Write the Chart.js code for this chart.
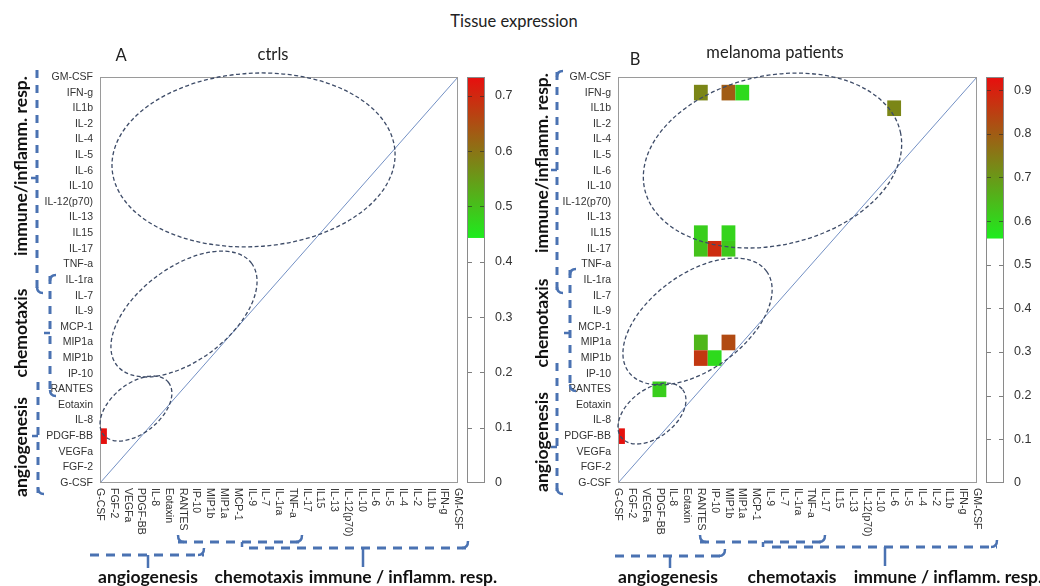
<!DOCTYPE html>
<html>
<head>
<meta charset="utf-8">
<script src="https://cdn.jsdelivr.net/npm/chart.js@4.4.0/dist/chart.umd.min.js"></script>
<style>
  html, body { margin:0; padding:0; background:#fff; }
  body { width:1040px; height:586px; position:relative; overflow:hidden; }
  #title { position:absolute; left:0; top:11px; width:1028px; text-align:center;
           font:16.5px Lato, "Open Sans", sans-serif; color:#222; line-height:20px; }
  #panelA { position:absolute; left:0; top:0; }
  #panelB { position:absolute; left:518px; top:0; }
</style>
</head>
<body>
<div id="title">Tissue expression</div>
<canvas id="panelA" width="520" height="586"></canvas>
<canvas id="panelB" width="522" height="586"></canvas>
<script>
// ---------------- data ----------------
const CATEGORIES = ['G-CSF','FGF-2','VEGFa','PDGF-BB','IL-8','Eotaxin','RANTES','IP-10','MIP1b','MIP1a',
  'MCP-1','IL-9','IL-7','IL-1ra','TNF-a','IL-17','IL15','IL-13','IL-12(p70)','IL-10','IL-6','IL-5',
  'IL-4','IL-2','IL1b','IFN-g','GM-CSF'];

// panel A: controls
const CTRL_CELL_X = ['G-CSF'];
const CTRL_CELL_Y = ['PDGF-BB'];
const CTRL_CELL_VALUES = [0.73];
const CTRL_COLOR_TICKS = [0, 0.1, 0.2, 0.3, 0.4, 0.5, 0.6, 0.7];
const CTRL_COLOR_MAX = 0.734;
const CTRL_COLOR_THRESHOLD = 0.443;

// panel B: melanoma patients
const MEL_CELL_X = ['RANTES','MIP1b','MIP1a','IL-6','RANTES','RANTES','IP-10','MIP1b','MIP1b',
  'RANTES','MIP1b','RANTES','IP-10','PDGF-BB','G-CSF'];
const MEL_CELL_Y = ['IFN-g','IFN-g','IFN-g','IL1b','IL15','IL-17','IL-17','IL15','IL-17',
  'MIP1a','MIP1a','MIP1b','MIP1b','RANTES','PDGF-BB'];
const MEL_CELL_VALUES = [0.73, 0.80, 0.59, 0.73, 0.61, 0.63, 0.88, 0.60, 0.62,
  0.65, 0.83, 0.86, 0.59, 0.61, 0.925];
const MEL_COLOR_TICKS = [0, 0.1, 0.2, 0.3, 0.4, 0.5, 0.6, 0.7, 0.8, 0.9];
const MEL_COLOR_MAX = 0.93;
const MEL_COLOR_THRESHOLD = 0.56;

// ---------------- styling helpers ----------------
const GREEN = [30, 236, 30], RED = [232, 14, 14];
function colorFor(v, thr, max) {
  if (v < thr) return '#ffffff';
  const t = Math.max(0, Math.min(1, (v - thr) / (max - thr)));
  const c = GREEN.map((g, i) => Math.round(g + (RED[i] - g) * t));
  return `rgb(${c[0]},${c[1]},${c[2]})`;
}
function idx(name) { return CATEGORIES.indexOf(name); }

const BLUE = '#4a72b2';
const GROUP_FONT = 'bold 17.5px Lato, "Open Sans", sans-serif';
const HEAD_FONT = '16.5px Lato, "Open Sans", sans-serif';

const heatPlugin = {
  id: 'heat',
  beforeDatasetsDraw(chart, args, o) {
    const { ctx, chartArea: a, scales: { x, y } } = chart;
    const ds = chart.data.datasets[1];
    ctx.save();
    ctx.beginPath();
    ctx.rect(a.left, a.top, a.right - a.left, a.bottom - a.top);
    ctx.clip();
    ds.data.forEach(d => {
      const x0 = x.getPixelForValue(d.x - 0.5), x1 = x.getPixelForValue(d.x + 0.5);
      const y0 = y.getPixelForValue(d.y + 0.5), y1 = y.getPixelForValue(d.y - 0.5);
      ctx.fillStyle = colorFor(d.v, o.threshold, o.max);
      ctx.fillRect(x0, y0, x1 - x0, y1 - y0);
    });
    ctx.restore();
  }
};

function vBracket(ctx, b) {
  ctx.save();
  ctx.strokeStyle = BLUE; ctx.lineWidth = 3; ctx.lineCap = 'butt';
  ctx.setLineDash([8, 7]);
  ctx.beginPath(); ctx.moveTo(b.x, b.y1); ctx.lineTo(b.x, b.y2); ctx.stroke();
  ctx.setLineDash([]);
  ctx.lineWidth = 2.5;
  ctx.beginPath();
  if (b.hookTop) { ctx.moveTo(b.x + 6, b.y1 - 1); ctx.quadraticCurveTo(b.x, b.y1 - 1, b.x, b.y1 + 5); }
  if (b.hookBottom) { ctx.moveTo(b.x, b.y2 - 5); ctx.quadraticCurveTo(b.x, b.y2 + 1, b.x + 6, b.y2 + 1); }
  ctx.moveTo(b.x, b.tick); ctx.lineTo(b.x - 6, b.tick);
  ctx.stroke();
  ctx.restore();
}
function hBracket(ctx, b) {
  ctx.save();
  ctx.strokeStyle = BLUE; ctx.lineWidth = 3;
  ctx.setLineDash([9, 7]);
  ctx.beginPath(); ctx.moveTo(b.x1, b.y); ctx.lineTo(b.x2, b.y); ctx.stroke();
  ctx.setLineDash([]);
  ctx.lineWidth = 2.5;
  ctx.beginPath();
  if (b.hookLeft) { ctx.moveTo(b.x1, b.y - 7); ctx.quadraticCurveTo(b.x1, b.y, b.x1 + 6, b.y); }
  if (b.hookRight) { ctx.moveTo(b.x2 - 6, b.y); ctx.quadraticCurveTo(b.x2, b.y, b.x2, b.y - 7); }
  ctx.moveTo(b.tick, b.y); ctx.lineTo(b.tick, b.y + b.tickLen);
  ctx.stroke();
  ctx.restore();
}

const decorPlugin = {
  id: 'decor',
  afterDraw(chart, args, o) {
    const { ctx, chartArea: a, scales } = chart;
    const x = scales.x, y = scales.y, cb = scales.cb;
    ctx.save();
    // frame
    ctx.strokeStyle = '#9a9a9a'; ctx.lineWidth = 1;
    ctx.strokeRect(a.left + 0.5, a.top + 0.5, a.right - a.left - 1, a.bottom - a.top - 1);

    // x-axis category labels (rotated, reading downward)
    ctx.fillStyle = '#333';
    ctx.font = '10.5px "Liberation Sans", Arial, sans-serif';
    ctx.textAlign = 'left'; ctx.textBaseline = 'middle';
    CATEGORIES.forEach((c, i) => {
      const px = x.getPixelForValue(i);
      ctx.save(); ctx.translate(px, a.bottom + 5); ctx.rotate(Math.PI / 2);
      ctx.fillText(c, 0, 0); ctx.restore();
    });

    // colour bar
    const cx0 = a.right + 9, cw = 18;
    const top = cb.getPixelForValue(o.max), bot = cb.getPixelForValue(0);
    const thrY = cb.getPixelForValue(o.threshold);
    const g = ctx.createLinearGradient(0, thrY, 0, top);
    g.addColorStop(0, colorFor(o.threshold, o.threshold, o.max));
    g.addColorStop(0.5, colorFor((o.threshold + o.max) / 2, o.threshold, o.max));
    g.addColorStop(1, colorFor(o.max, o.threshold, o.max));
    ctx.fillStyle = '#fff'; ctx.fillRect(cx0, top, cw, bot - top);
    ctx.fillStyle = g; ctx.fillRect(cx0, top, cw, thrY - top);
    ctx.strokeStyle = '#8a8a8a'; ctx.lineWidth = 1;
    ctx.strokeRect(cx0 + 0.5, top + 0.5, cw - 1, bot - top - 1);
    ctx.strokeStyle = 'rgba(40,40,40,0.6)';
    o.ticks.forEach(t => {
      if (t === 0) return;
      const ty = Math.round(cb.getPixelForValue(t)) + 0.5;
      ctx.beginPath();
      ctx.moveTo(cx0 + 1, ty); ctx.lineTo(cx0 + 5, ty);
      ctx.moveTo(cx0 + cw - 5, ty); ctx.lineTo(cx0 + cw - 1, ty);
      ctx.stroke();
    });

    // ellipses
    ctx.strokeStyle = '#3e4c68'; ctx.lineWidth = 1.3; ctx.setLineDash([4, 2.5]);
    o.ellipses.forEach(e => {
      ctx.beginPath();
      ctx.ellipse(x.getPixelForValue(e.cx), y.getPixelForValue(e.cy), e.rx, e.ry,
        e.rot * Math.PI / 180, 0, Math.PI * 2);
      ctx.stroke();
    });
    ctx.setLineDash([]);

    // brackets
    o.vBrackets.forEach(b => vBracket(ctx, b));
    o.hBrackets.forEach(b => hBracket(ctx, b));

    // group labels
    ctx.fillStyle = '#111';
    ctx.font = GROUP_FONT;
    ctx.textAlign = 'center'; ctx.textBaseline = 'middle';
    o.sideLabels.forEach(l => {
      ctx.save(); ctx.translate(l.x, l.y); ctx.rotate(-Math.PI / 2);
      ctx.fillText(l.text, 0, 0); ctx.restore();
    });
    o.bottomLabels.forEach(l => ctx.fillText(l.text, l.x, l.y));

    // panel letter and subtitle
    ctx.fillStyle = '#222';
    ctx.font = HEAD_FONT;
    ctx.fillText(o.letter.text, o.letter.x, o.letter.y);
    ctx.fillText(o.subtitle.text, o.subtitle.x, o.subtitle.y);
    ctx.restore();
  }
};

function makePanel(id, cellX, cellY, cellV, ticks, max, thr, padRight, deco) {
  const cells = cellX.map((c, i) => ({ x: idx(c), y: idx(cellY[i]), v: cellV[i] }));
  const last = CATEGORIES.length - 1;
  const diag = [{ x: 0, y: 0 }, { x: last, y: last }];
  return new Chart(document.getElementById(id), {
    type: 'scatter',
    data: {
      datasets: [
        { type: 'line', data: diag, borderColor: '#7390c4', borderWidth: 1, pointRadius: 0, fill: false },
        { type: 'scatter', data: cells, pointRadius: 0, pointHoverRadius: 0 }
      ]
    },
    options: {
      responsive: false, animation: false, events: [],
      layout: { padding: { left: 40, top: 77, right: padRight, bottom: 0 } },
      plugins: {
        legend: { display: false }, tooltip: { enabled: false },
        heat: { threshold: thr, max: max },
        decor: Object.assign({ threshold: thr, max: max, ticks: ticks }, deco)
      },
      scales: {
        x: { type: 'linear', min: 0, max: last, position: 'bottom',
             grid: { display: false, drawTicks: false }, border: { display: false }, ticks: { display: false },
             afterFit(s) { s.height = 103; s.paddingLeft = 0; s.paddingRight = 0; } },
        y: { type: 'linear', min: 0, max: last, position: 'left',
             grid: { display: false, drawTicks: false }, border: { display: false },
             ticks: { stepSize: 1, autoSkip: false, padding: 7, color: '#333',
                      font: { family: '"Liberation Sans", Arial, sans-serif', size: 10.5 },
                      callback: v => CATEGORIES[v] },
             afterFit(s) { s.width = 60; s.paddingTop = 0; s.paddingBottom = 0; } },
        cb: { type: 'linear', position: 'right', min: 0, max: max,
              grid: { display: false, drawTicks: false }, border: { display: false },
              afterBuildTicks(s) { s.ticks = ticks.map(v => ({ value: v })); },
              ticks: { padding: 37, color: '#333',
                       font: { family: '"Liberation Sans", Arial, sans-serif', size: 12.5 },
                       callback: v => v === 0 ? '0' : v.toFixed(1) },
              afterFit(s) { s.width = 62; s.paddingTop = 0; s.paddingBottom = 0; } }
      }
    },
    plugins: [heatPlugin, decorPlugin]
  });
}

makePanel('panelA', CTRL_CELL_X, CTRL_CELL_Y, CTRL_CELL_VALUES, CTRL_COLOR_TICKS,
  CTRL_COLOR_MAX, CTRL_COLOR_THRESHOLD, 0, {
  ellipses: [
    { cx: 11.15, cy: 20.69, rx: 141.7, ry: 86.7, rot: -3.4 },
    { cx: 6.10, cy: 10.82, rx: 84.5, ry: 46.5, rot: -37 },
    { cx: 2.61, cy: 4.77, rx: 41.7, ry: 24.7, rot: -39 }
  ],
  vBrackets: [
    { x: 37, y1: 70, y2: 292, tick: 178, hookTop: false, hookBottom: true },
    { x: 50, y1: 276, y2: 395, tick: 333, hookTop: true, hookBottom: true },
    { x: 38, y1: 382, y2: 493, tick: 436, hookTop: false, hookBottom: true }
  ],
  hBrackets: [
    { x1: 90, x2: 204, y: 555, tick: 148, tickLen: 13, hookLeft: false, hookRight: true },
    { x1: 178, x2: 302, y: 542, tick: 242, tickLen: 5, hookLeft: true, hookRight: true },
    { x1: 249, x2: 468, y: 548, tick: 363, tickLen: 19, hookLeft: false, hookRight: true }
  ],
  sideLabels: [
    { text: 'immune/inflamm. resp.', x: 21, y: 166 },
    { text: 'chemotaxis', x: 21, y: 333 },
    { text: 'angiogenesis', x: 21, y: 447 }
  ],
  bottomLabels: [
    { text: 'angiogenesis', x: 148, y: 577 },
    { text: 'chemotaxis', x: 259, y: 577 },
    { text: 'immune / inflamm. resp.', x: 403, y: 577 }
  ],
  letter: { text: 'A', x: 121, y: 56 },
  subtitle: { text: 'ctrls', x: 273, y: 55 }
});

makePanel('panelB', MEL_CELL_X, MEL_CELL_Y, MEL_CELL_VALUES, MEL_COLOR_TICKS,
  MEL_COLOR_MAX, MEL_COLOR_THRESHOLD, 1, {
  ellipses: [
    { cx: 11.19, cy: 20.65, rx: 131, ry: 84.7, rot: -12.6 },
    { cx: 5.76, cy: 10.34, rx: 85.4, ry: 47.9, rot: -36 },
    { cx: 2.46, cy: 4.45, rx: 38.9, ry: 23.9, rot: -38 }
  ],
  vBrackets: [
    { x: 39, y1: 72, y2: 292, tick: 170, hookTop: true, hookBottom: true },
    { x: 52, y1: 270, y2: 390, tick: 333, hookTop: true, hookBottom: true },
    { x: 39, y1: 363, y2: 493, tick: 447, hookTop: false, hookBottom: true }
  ],
  hBrackets: [
    { x1: 97, x2: 207, y: 556, tick: 152, tickLen: 12, hookLeft: false, hookRight: true },
    { x1: 182, x2: 307, y: 542, tick: 245, tickLen: 5, hookLeft: true, hookRight: true },
    { x1: 254, x2: 479, y: 547, tick: 367, tickLen: 19, hookLeft: false, hookRight: true }
  ],
  sideLabels: [
    { text: 'immune/inflamm. resp.', x: 24, y: 163 },
    { text: 'chemotaxis', x: 24, y: 323 },
    { text: 'angiogenesis', x: 24, y: 442 }
  ],
  bottomLabels: [
    { text: 'angiogenesis', x: 150, y: 577 },
    { text: 'chemotaxis', x: 274, y: 577 },
    { text: 'immune / inflamm. resp.', x: 430, y: 577 }
  ],
  letter: { text: 'B', x: 117, y: 60 },
  subtitle: { text: 'melanoma patients', x: 257, y: 53 }
});
</script>
</body>
</html>
